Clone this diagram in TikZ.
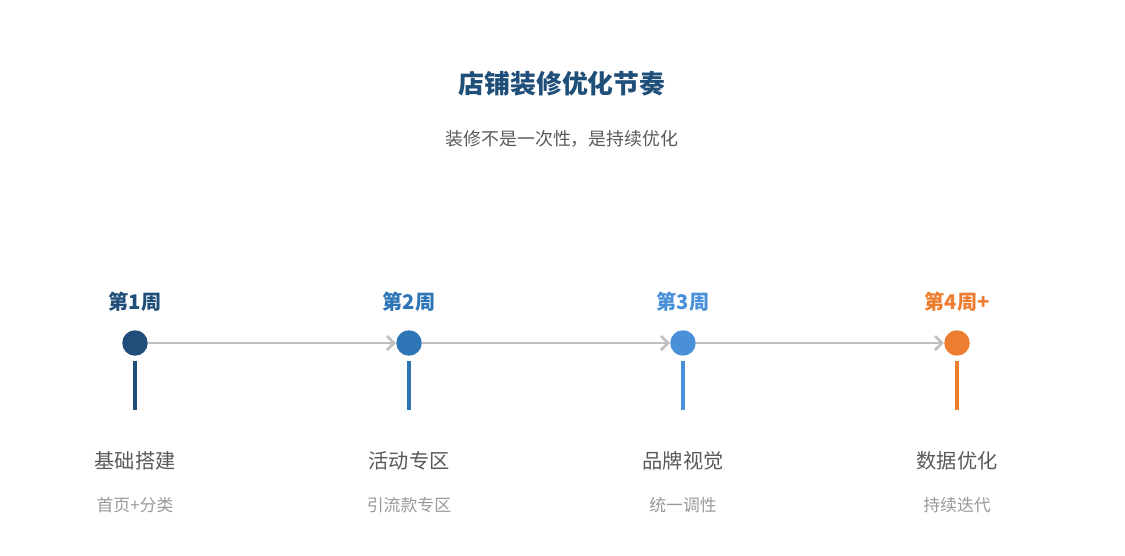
\documentclass[tikz,border=0pt]{standalone}
\usepackage{fontspec}
\setmainfont{Noto Sans CJK SC}
\usetikzlibrary{arrows.meta}
\definecolor{wkA}{HTML}{1F4E79}
\definecolor{wkB}{HTML}{2E75B6}
\definecolor{wkC}{HTML}{4A90D9}
\definecolor{wkD}{HTML}{ED7D31}
\definecolor{txtmain}{HTML}{595959}
\definecolor{txtsub}{HTML}{999999}
\definecolor{track}{HTML}{BFBFBF}
\tikzset{
  week/.style={font=\fontsize{11.5}{13}\selectfont\bfseries},
  dot/.style={circle, fill=#1, minimum size=14.5pt, inner sep=0pt},
  stem/.style={line width=2pt, draw=#1},
  phase/.style={font=\fontsize{11.5}{13}\selectfont, text=txtmain},
  note/.style={font=\fontsize{9.6}{11}\selectfont, text=txtsub},
  link/.style={draw=track, line width=1.5pt, -{Straight Barb[length=4pt]}}
}
\begin{document}
\begin{tikzpicture}[x=0.02cm, y=-0.02cm]
  \useasboundingbox (0,0) rectangle (1125,555);

  \node[font=\fontsize{14.7}{17}\selectfont\bfseries, text=wkA] (title) at (562,84) {店铺装修优化节奏};
  \node[font=\fontsize{10.2}{12}\selectfont, text=txtmain] (subtitle) at (562,139) {装修不是一次性，是持续优化};

  \foreach \x/\c/\w/\s/\n [count=\i] in {
      135/wkA/第1周/基础搭建/首页+分类,
      409/wkB/第2周/活动专区/引流款专区,
      683/wkC/第3周/品牌视觉/统一调性,
      957/wkD/第4周+/数据优化/持续迭代} {
    \node[week, text=\c] (w\i) at (\x,302) {\w};
    \node[dot=\c] (d\i) at (\x,343) {};
    \coordinate (top\i) at (\x,361);
    \coordinate (bot\i) at (\x,410);
    \draw[stem=\c] (top\i) -- (bot\i);
    \node[phase] (s\i) at (\x,461) {\s};
    \node[note] (n\i) at (\x,505) {\n};
  }

  \foreach \i/\j in {1/2, 2/3, 3/4}
    \draw[link] (d\i) -- (d\j);

\end{tikzpicture}
\end{document}
